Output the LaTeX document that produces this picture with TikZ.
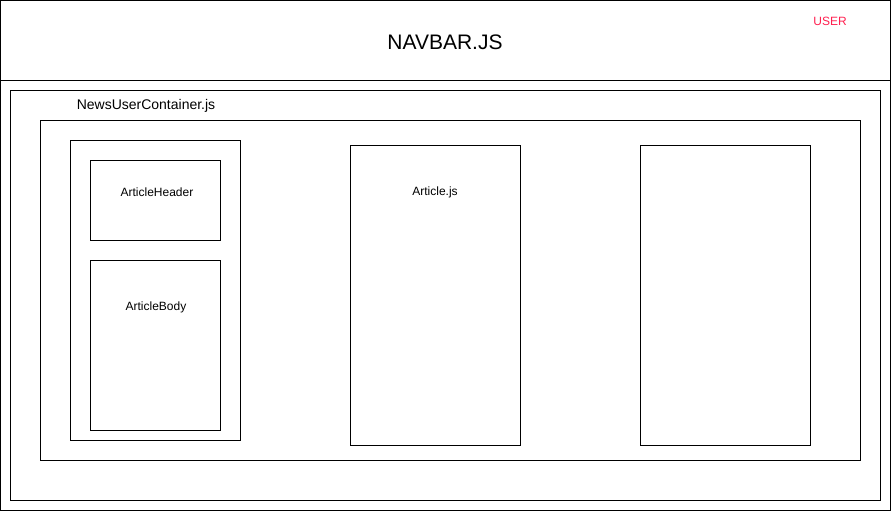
\documentclass[tikz,border=0pt]{standalone}
\usepackage{fontspec}
\setmainfont{Liberation Sans}
\definecolor{userred}{HTML}{FF1F4F}
\begin{document}
\begin{tikzpicture}[x=1pt,y=-1pt,
  box/.style={draw=black,line width=1pt,fill=none},
  lbl/.style={inner sep=0pt,font=\fontsize{12}{14}\selectfont}]
\useasboundingbox (0,0) rectangle (891,511);
\draw[box] (0.5,0.5) rectangle (890.5,80.5);
\draw[box] (0.5,80.5) rectangle (890.5,510.5);
\node[inner sep=0pt,font=\fontsize{21}{25}\selectfont] (navbar) at (445,42) {NAVBAR.JS};
\node[lbl,text=userred] (user) at (830,21) {USER};
\draw[box] (10.5,90.5) rectangle (880.5,500.5);
\node[inner sep=0pt,font=\fontsize{14}{16}\selectfont] (nuc) at (146,106) {NewsUserContainer.js};
\draw[box] (40.5,120.5) rectangle (860.5,460.5);
\draw[box] (70.5,140.5) rectangle (240.5,440.5);
\draw[box] (90.5,160.5) rectangle (220.5,240.5);
\node[lbl] (hdr) at (157,192) {ArticleHeader};
\draw[box] (90.5,260.5) rectangle (220.5,430.5);
\node[lbl] (body) at (156,307) {ArticleBody};
\draw[box] (350.5,145.5) rectangle (520.5,445.5);
\node[lbl] (art) at (435,192) {Article.js};
\draw[box] (640.5,145.5) rectangle (810.5,445.5);
\end{tikzpicture}
\end{document}
